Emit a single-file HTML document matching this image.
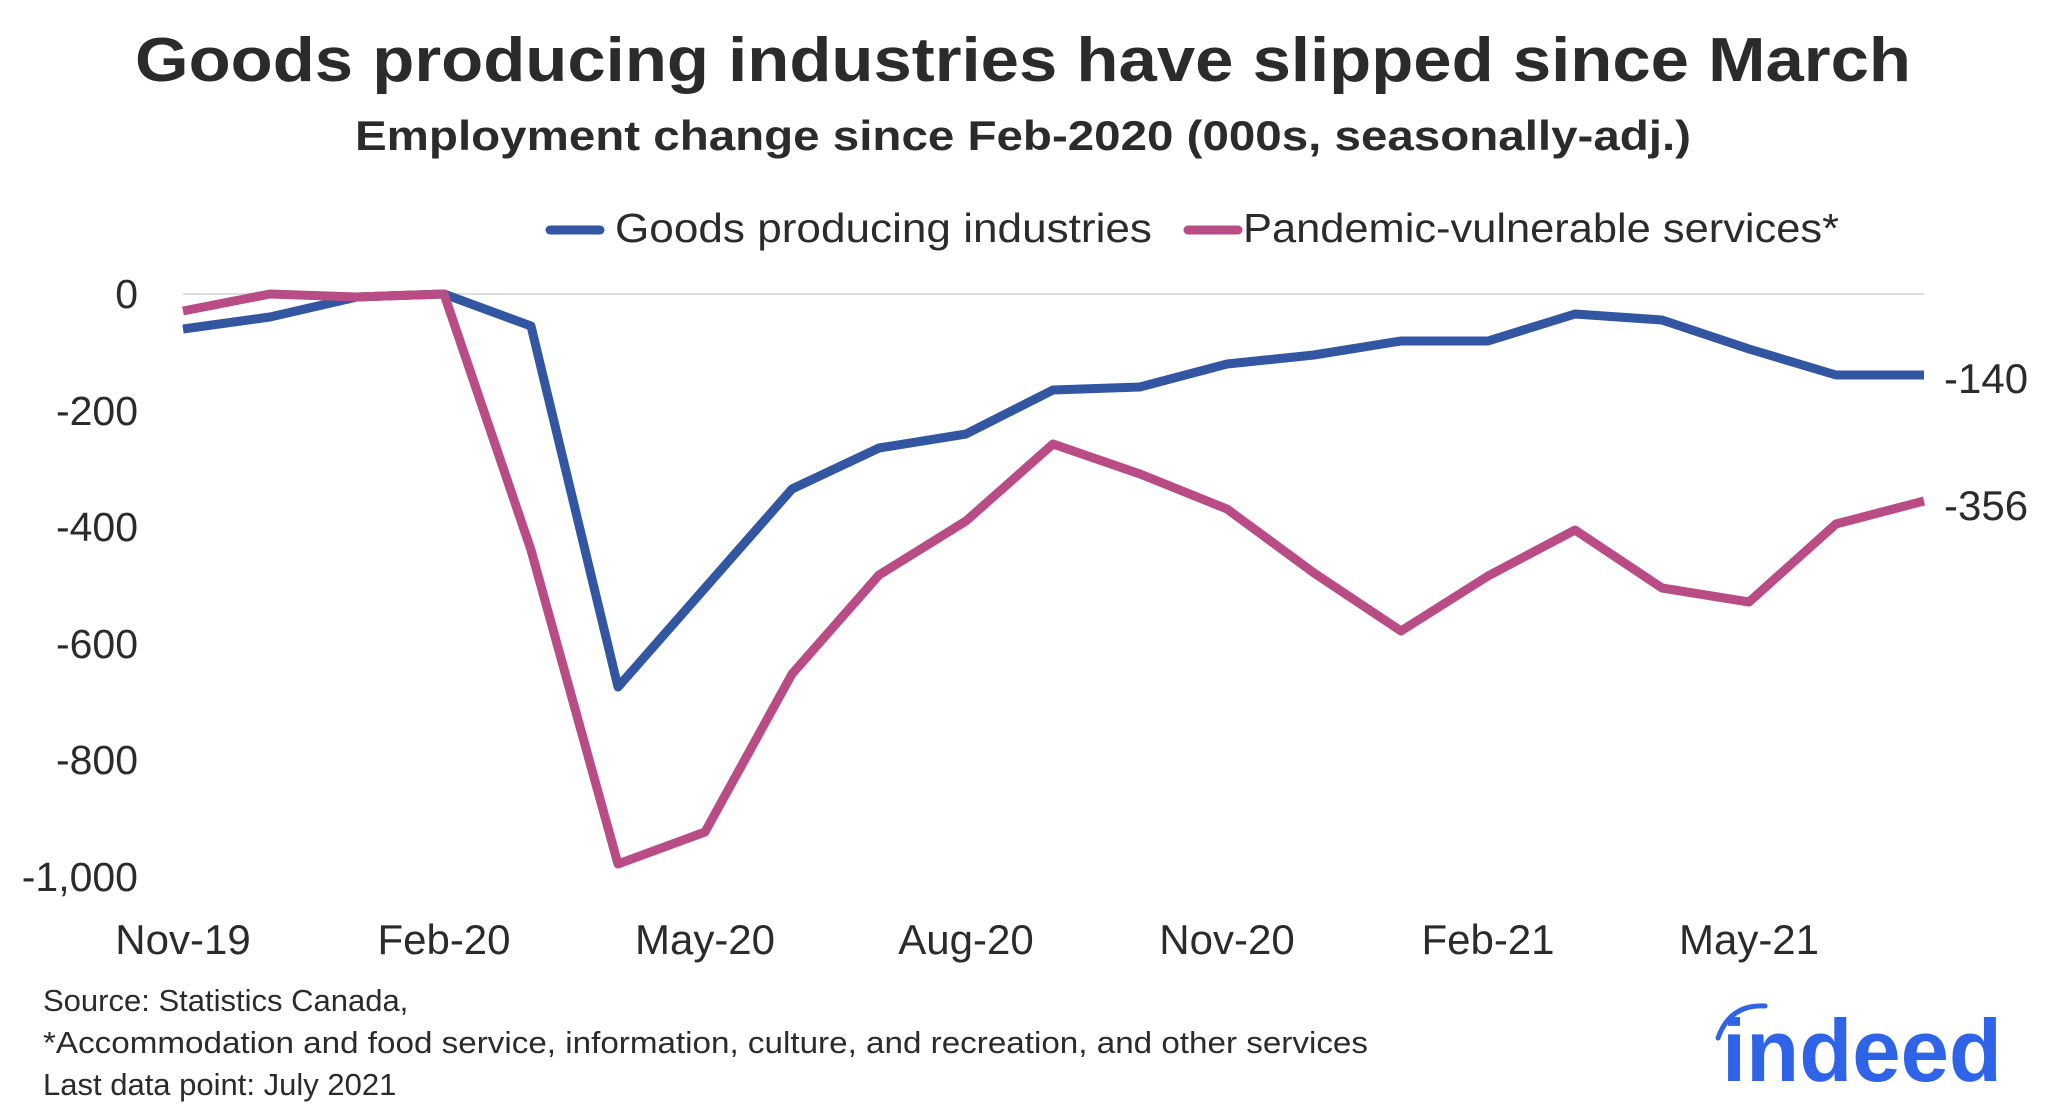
<!DOCTYPE html>
<html><head><meta charset="utf-8"><style>
html,body{margin:0;padding:0;background:#fff;}
svg{display:block;font-family:"Liberation Sans",sans-serif;}
</style></head><body>
<svg width="2048" height="1119" viewBox="0 0 2048 1119" xmlns="http://www.w3.org/2000/svg">
<text x="1023" y="81" text-anchor="middle" font-size="62" font-weight="bold" fill="#2b2b2b" textLength="1776" lengthAdjust="spacingAndGlyphs">Goods producing industries have slipped since March</text>
<text x="1023" y="150" text-anchor="middle" font-size="42" font-weight="bold" fill="#2b2b2b" textLength="1336" lengthAdjust="spacingAndGlyphs">Employment change since Feb-2020 (000s, seasonally-adj.)</text>
<line x1="550" y1="230" x2="600" y2="230" stroke="#3356a3" stroke-width="9" stroke-linecap="round"/>
<text x="615" y="242" font-size="41" fill="#2b2b2b" textLength="537" lengthAdjust="spacingAndGlyphs">Goods producing industries</text>
<line x1="1188" y1="230" x2="1238" y2="230" stroke="#b94c85" stroke-width="9" stroke-linecap="round"/>
<text x="1243" y="242" font-size="41" fill="#2b2b2b" textLength="596" lengthAdjust="spacingAndGlyphs">Pandemic-vulnerable services*</text>
<line x1="183" y1="294" x2="1924" y2="294" stroke="#dddddd" stroke-width="2"/>
<g font-size="41" fill="#2b2b2b" text-anchor="end">
<text x="138" y="308">0</text>
<text x="138" y="425">-200</text>
<text x="138" y="541">-400</text>
<text x="138" y="658">-600</text>
<text x="138" y="774">-800</text>
<text x="138" y="891">-1,000</text>
</g>
<g font-size="42" fill="#2b2b2b" text-anchor="middle">
<text x="183" y="954">Nov-19</text>
<text x="444" y="954">Feb-20</text>
<text x="705" y="954">May-20</text>
<text x="966" y="954">Aug-20</text>
<text x="1227" y="954">Nov-20</text>
<text x="1488" y="954">Feb-21</text>
<text x="1749" y="954">May-21</text>
</g>
<polyline fill="none" stroke="#3356a3" stroke-width="9" stroke-linejoin="round" points="183,329 270,317 357,297 444,294 531,326 618,687 705,588 792,489 879,448 966,434 1053,390 1140,387 1227,364 1314,355 1401,341 1488,341 1575,314 1662,320 1749,349 1836,375 1924,375"/>
<polyline fill="none" stroke="#b94c85" stroke-width="9" stroke-linejoin="round" points="183,311 270,294 357,297 444,294 531,550 618,864 705,832 792,674 879,575 966,521 1053,444 1140,474 1227,509 1314,573 1401,631 1488,576 1575,530 1662,588 1749,602 1836,524 1924,501"/>
<g font-size="42" fill="#2b2b2b">
<text x="1944" y="393">-140</text>
<text x="1944" y="520">-356</text>
</g>
<g font-size="31" fill="#2b2b2b">
<text x="43" y="1011">Source: Statistics Canada,</text>
<text x="43" y="1053" textLength="1325" lengthAdjust="spacingAndGlyphs">*Accommodation and food service, information, culture, and recreation, and other services</text>
<text x="43" y="1095">Last data point: July 2021</text>
</g>
<path d="M1718,1038 Q1730,1004 1765,1006" fill="none" stroke="#2f63e8" stroke-width="5" stroke-linecap="round"/>
<text x="1722" y="1081" font-size="88" font-weight="bold" fill="#2f63e8" textLength="280" lengthAdjust="spacingAndGlyphs">indeed</text>
</svg>
</body></html>
